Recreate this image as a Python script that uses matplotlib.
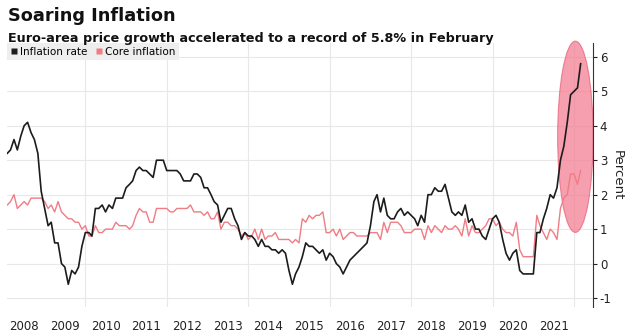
import numpy as np
import pandas as pd
import matplotlib
matplotlib.use("Agg")
import matplotlib.pyplot as plt
import matplotlib.dates as mdates
from matplotlib.patches import Ellipse
from matplotlib.lines import Line2D

# monthly readings, Jan 2008 .. Feb 2022 (percent, year over year)
inflation = [
    3.2, 3.3, 3.6, 3.3, 3.7, 4.0, 4.1, 3.8, 3.6, 3.2, 2.1, 1.6,      # 2008
    1.1, 1.2, 0.6, 0.6, 0.0, -0.1, -0.6, -0.2, -0.3, -0.1, 0.5, 0.9,  # 2009
    0.9, 0.8, 1.6, 1.6, 1.7, 1.5, 1.7, 1.6, 1.9, 1.9, 1.9, 2.2,      # 2010
    2.3, 2.4, 2.7, 2.8, 2.7, 2.7, 2.6, 2.5, 3.0, 3.0, 3.0, 2.7,      # 2011
    2.7, 2.7, 2.7, 2.6, 2.4, 2.4, 2.4, 2.6, 2.6, 2.5, 2.2, 2.2,      # 2012
    2.0, 1.8, 1.7, 1.2, 1.4, 1.6, 1.6, 1.3, 1.1, 0.7, 0.9, 0.8,      # 2013
    0.8, 0.7, 0.5, 0.7, 0.5, 0.5, 0.4, 0.4, 0.3, 0.4, 0.3, -0.2,     # 2014
    -0.6, -0.3, -0.1, 0.2, 0.6, 0.5, 0.5, 0.4, 0.3, 0.4, 0.1, 0.3,   # 2015
    0.2, 0.0, -0.1, -0.3, -0.1, 0.1, 0.2, 0.3, 0.4, 0.5, 0.6, 1.1,   # 2016
    1.8, 2.0, 1.5, 1.9, 1.4, 1.3, 1.3, 1.5, 1.6, 1.4, 1.5, 1.4,      # 2017
    1.3, 1.1, 1.4, 1.2, 2.0, 2.0, 2.2, 2.1, 2.1, 2.3, 1.9, 1.5,      # 2018
    1.4, 1.5, 1.4, 1.7, 1.2, 1.3, 1.0, 1.0, 0.8, 0.7, 1.0, 1.3,      # 2019
    1.4, 1.2, 0.7, 0.3, 0.1, 0.3, 0.4, -0.2, -0.3, -0.3, -0.3, -0.3, # 2020
    0.9, 0.9, 1.3, 1.6, 2.0, 1.9, 2.2, 3.0, 3.4, 4.1, 4.9, 5.0,      # 2021
    5.1, 5.8,                                                        # 2022
]
core = [
    1.7, 1.8, 2.0, 1.6, 1.7, 1.8, 1.7, 1.9, 1.9, 1.9, 1.9, 1.8,
    1.6, 1.7, 1.5, 1.8, 1.5, 1.4, 1.3, 1.3, 1.2, 1.2, 1.0, 1.1,
    0.8, 0.8, 1.1, 0.9, 0.9, 1.0, 1.0, 1.0, 1.2, 1.1, 1.1, 1.1,
    1.0, 1.1, 1.4, 1.6, 1.5, 1.5, 1.2, 1.2, 1.6, 1.6, 1.6, 1.6,
    1.5, 1.5, 1.6, 1.6, 1.6, 1.6, 1.7, 1.5, 1.5, 1.5, 1.4, 1.5,
    1.3, 1.3, 1.5, 1.0, 1.2, 1.2, 1.1, 1.1, 1.0, 0.8, 0.9, 0.7,
    0.8, 1.0, 0.7, 1.0, 0.7, 0.8, 0.8, 0.9, 0.7, 0.7, 0.7, 0.7,
    0.6, 0.7, 0.6, 1.3, 1.2, 1.4, 1.3, 1.4, 1.4, 1.5, 0.9, 0.9,
    1.0, 0.8, 1.0, 0.7, 0.8, 0.9, 0.9, 0.8, 0.8, 0.8, 0.8, 0.9,
    0.9, 0.9, 0.7, 1.2, 0.9, 1.2, 1.2, 1.2, 1.1, 0.9, 0.9, 0.9,
    1.0, 1.0, 1.0, 0.7, 1.1, 0.9, 1.1, 1.0, 0.9, 1.1, 1.0, 1.0,
    1.1, 1.0, 0.8, 1.3, 0.8, 1.1, 0.9, 0.9, 1.0, 1.1, 1.3, 1.3,
    1.1, 1.2, 1.0, 0.9, 0.9, 0.8, 1.2, 0.4, 0.2, 0.2, 0.2, 0.2,
    1.4, 1.1, 0.9, 0.7, 1.0, 0.9, 0.7, 1.6, 1.9, 2.0, 2.6, 2.6,
    2.3, 2.7,
]
dates = pd.date_range("2008-01-31", periods=len(inflation), freq="ME")
years = list(range(2008, 2022))
yticks = [-1, 0, 1, 2, 3, 4, 5, 6]

BLACK = "#1c1c1c"
RED = "#f07c84"

fig = plt.figure(figsize=(6.29, 3.32), dpi=100)
ax = fig.add_axes([0.0116, 0.0753, 0.931, 0.795])

ax.plot(dates, inflation, color=BLACK, lw=1.2, zorder=3)
ax.plot(dates, core, color=RED, lw=1.0, zorder=2.5)

# highlight on the latest readings
ell = Ellipse((mdates.date2num(pd.Timestamp("2022-01-12")), 3.68), width=318, height=5.55,
              facecolor="#f47f93", edgecolor="#e8627a", lw=0.8, alpha=0.75, zorder=2, clip_on=False)
ax.add_patch(ell)

ax.set_xlim(dates[0], pd.Timestamp("2022-06-18"))
ax.set_ylim(-1.26, 6.4)

ax.yaxis.tick_right()
ax.yaxis.set_label_position("right")
ax.set_yticks(yticks)
ax.set_yticklabels([str(v) for v in yticks])
ax.set_ylabel("Percent", rotation=270, labelpad=9, fontsize=9.5, color="#222222")
ax.tick_params(axis="y", length=3, width=0.8, pad=2, labelsize=8.5, colors="#222222")

ax.set_xticks([pd.Timestamp(f"{y}-07-01") for y in years])
ax.set_xticklabels([str(y) for y in years])
ax.tick_params(axis="x", length=0, pad=9, labelsize=8.5, colors="#222222")

for v in yticks:
    ax.axhline(v, color="#e8e8e8", lw=0.8, zorder=0)
for y in range(2010, 2023, 2):
    ax.axvline(pd.Timestamp(f"{y}-01-01"), color="#e8e8e8", lw=0.8, zorder=0)

for s in ["top", "left", "bottom"]:
    ax.spines[s].set_visible(False)
ax.spines["right"].set_color("#333333")
ax.spines["right"].set_linewidth(0.8)

handles = [
    Line2D([], [], marker="s", color="none", markerfacecolor=BLACK, markeredgecolor="none", markersize=5),
    Line2D([], [], marker="s", color="none", markerfacecolor=RED, markeredgecolor="none", markersize=5),
]
leg = ax.legend(handles, ["Inflation rate", "Core inflation"], loc="upper left", ncol=2,
                fontsize=7.5, frameon=True, fancybox=False, handlelength=0.6, handletextpad=0.3,
                columnspacing=0.8, borderpad=0.35, borderaxespad=0.0)
leg.get_frame().set_facecolor("#eeeeee")
leg.get_frame().set_edgecolor("none")
leg.get_frame().set_alpha(1)

fig.text(0.013, 0.978, "Soaring Inflation", fontsize=12.8, fontweight="bold",
         va="top", ha="left", color="#111111")
fig.text(0.013, 0.905, "Euro-area price growth accelerated to a record of 5.8% in February",
         fontsize=9.2, fontweight="bold", va="top", ha="left", color="#111111")

fig.savefig("out.png", dpi=100)
